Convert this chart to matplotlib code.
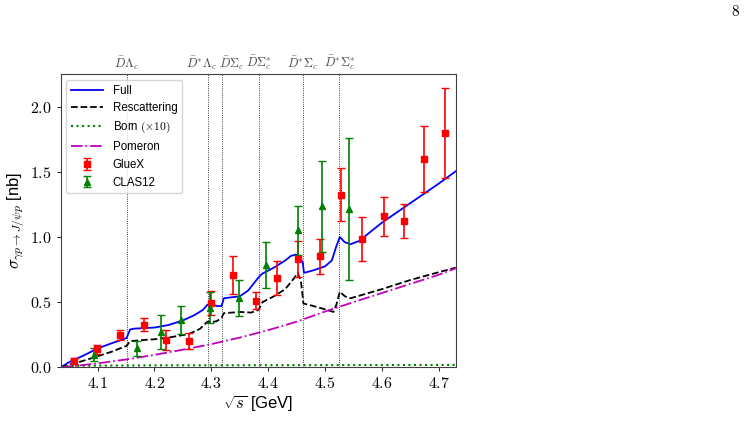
import numpy as np
import matplotlib
matplotlib.use('Agg')
import matplotlib.pyplot as plt
from matplotlib.ticker import FuncFormatter

plt.rcParams['mathtext.fontset'] = 'cm'
plt.rcParams['font.family'] = ['Liberation Sans', 'DejaVu Sans']

# model curves
x_full = [4.035, 4.05, 4.075, 4.1, 4.125, 4.145, 4.151, 4.157, 4.165, 4.2, 4.225,
          4.25, 4.27, 4.285, 4.293, 4.3, 4.31, 4.318, 4.322, 4.35, 4.365, 4.383,
          4.39, 4.41, 4.43, 4.44, 4.448, 4.455, 4.461, 4.463, 4.48, 4.5, 4.512,
          4.52, 4.526, 4.535, 4.545, 4.56, 4.6, 4.65, 4.7, 4.73]
y_full = [0.0, 0.04, 0.09, 0.145, 0.185, 0.215, 0.225, 0.29, 0.297, 0.305, 0.325,
          0.36, 0.40, 0.44, 0.48, 0.485, 0.47, 0.47, 0.53, 0.545, 0.59, 0.69,
          0.72, 0.765, 0.82, 0.855, 0.865, 0.855, 0.80, 0.725, 0.745, 0.775, 0.82,
          0.93, 1.0, 0.96, 0.945, 0.97, 1.11, 1.26, 1.41, 1.505]

x_resc = [4.035, 4.05, 4.075, 4.1, 4.125, 4.145, 4.151, 4.157, 4.175, 4.2, 4.23,
          4.26, 4.28, 4.293, 4.3, 4.31, 4.318, 4.322, 4.35, 4.37, 4.383, 4.39,
          4.41, 4.43, 4.445, 4.452, 4.458, 4.462, 4.48, 4.5, 4.515, 4.52, 4.526,
          4.535, 4.545, 4.6, 4.65, 4.7, 4.73]
y_resc = [0.0, 0.02, 0.05, 0.085, 0.12, 0.155, 0.165, 0.2, 0.208, 0.215, 0.232,
          0.255, 0.295, 0.35, 0.345, 0.355, 0.38, 0.415, 0.425, 0.42, 0.44, 0.5,
          0.545, 0.6, 0.68, 0.725, 0.65, 0.49, 0.47, 0.445, 0.425, 0.48, 0.58,
          0.545, 0.53, 0.6, 0.67, 0.73, 0.765]

x_born = [4.035, 4.045, 4.07, 4.2, 4.73]
y_born = [0.0, 0.008, 0.012, 0.015, 0.018]

x_pom = [4.035, 4.06, 4.1, 4.15, 4.2, 4.25, 4.3, 4.35, 4.4, 4.45, 4.5, 4.55,
         4.6, 4.65, 4.7, 4.73]
y_pom = [0.0, 0.01, 0.03, 0.06, 0.095, 0.135, 0.178, 0.228, 0.285, 0.35, 0.428,
         0.5, 0.57, 0.64, 0.71, 0.76]

# data
gluex_x = [4.058, 4.099, 4.14, 4.181, 4.221, 4.26, 4.30, 4.338, 4.378, 4.415,
           4.453, 4.491, 4.528, 4.565, 4.603, 4.639, 4.674, 4.712]
gluex_y = [0.048, 0.138, 0.248, 0.325, 0.21, 0.202, 0.492, 0.71, 0.51, 0.685,
           0.833, 0.851, 1.325, 0.985, 1.158, 1.12, 1.60, 1.80]
gluex_err = [0.02, 0.035, 0.04, 0.05, 0.08, 0.06, 0.09, 0.145, 0.065, 0.13,
             0.14, 0.135, 0.205, 0.167, 0.152, 0.13, 0.254, 0.346]

clas_x = [4.094, 4.169, 4.212, 4.247, 4.297, 4.349, 4.397, 4.452, 4.495, 4.543]
clas_y = [0.095, 0.146, 0.274, 0.364, 0.458, 0.531, 0.787, 1.051, 1.235, 1.218]
clas_err = [0.05, 0.058, 0.13, 0.11, 0.12, 0.14, 0.177, 0.187, 0.35, 0.545]

thr_x = [4.1513, 4.2933, 4.3187, 4.3832, 4.4608, 4.5253]
thr_lab = [r'$\bar{D}\Lambda_c$', r'$\bar{D}^{*}\Lambda_c$', r'$\bar{D}\Sigma_c$',
           r'$\bar{D}\Sigma_c^{*}$', r'$\bar{D}^{*}\Sigma_c$', r'$\bar{D}^{*}\Sigma_c^{*}$']
thr_shift = [0, -4, 7, 0, 0, 0]  # label nudges in points, so neighbours don't collide

fig = plt.figure(figsize=(7.45, 4.21), dpi=100)
ax = fig.add_axes([0.0815, 0.1276, 0.5302, 0.696])

for xt, lab, dx in zip(thr_x, thr_lab, thr_shift):
    ax.axvline(xt, color='k', ls=':', lw=0.6)
    ax.annotate(lab, (xt, 1.0), xycoords=ax.get_xaxis_transform(),
                xytext=(dx, 1.5), textcoords='offset points', ha='center',
                va='bottom', fontsize=9, color='0.3')

ax.plot(x_full, y_full, '-', color='b', lw=1.3, label='Full')
ax.plot(x_resc, y_resc, '--', color='k', lw=1.3, label='Rescattering')
ax.plot(x_born, y_born, ':', color='g', lw=1.5, label=r'Born $(\times 10)$')
ax.plot(x_pom, y_pom, '-.', color='m', lw=1.3, label='Pomeron')

ax.errorbar(gluex_x, gluex_y, yerr=gluex_err, fmt='s', color='r', ms=4.5,
            capsize=3, elinewidth=1.2, label='GlueX')
ax.errorbar(clas_x, clas_y, yerr=clas_err, fmt='^', color='g', ms=5,
            capsize=3, elinewidth=1.2, label='CLAS12')

ax.set_xlim(4.035, 4.73)
ax.set_ylim(0, 2.25)
ax.set_xticks([4.1, 4.2, 4.3, 4.4, 4.5, 4.6, 4.7])
ax.set_yticks([0.0, 0.5, 1.0, 1.5, 2.0])
fmt = FuncFormatter(lambda v, p: r'$%.1f$' % v)
ax.xaxis.set_major_formatter(fmt)
ax.yaxis.set_major_formatter(fmt)
ax.tick_params(labelsize=11.5, length=3, width=0.6)
for s in ax.spines.values():
    s.set_color('0.25')

ax.set_xlabel(r'$\sqrt{s}$ [GeV]', fontsize=12, labelpad=1)
ax.set_ylabel(r'$\sigma_{\gamma p\to J/\psi p}$ [nb]', fontsize=12, labelpad=2)

ax.legend(loc='upper left', fontsize=8.3, framealpha=0.8, handlelength=2.8)

fig.text(0.9935, 0.972, r'$8$', ha='right', va='center', fontsize=11)

fig.savefig('out.png', dpi=100)
